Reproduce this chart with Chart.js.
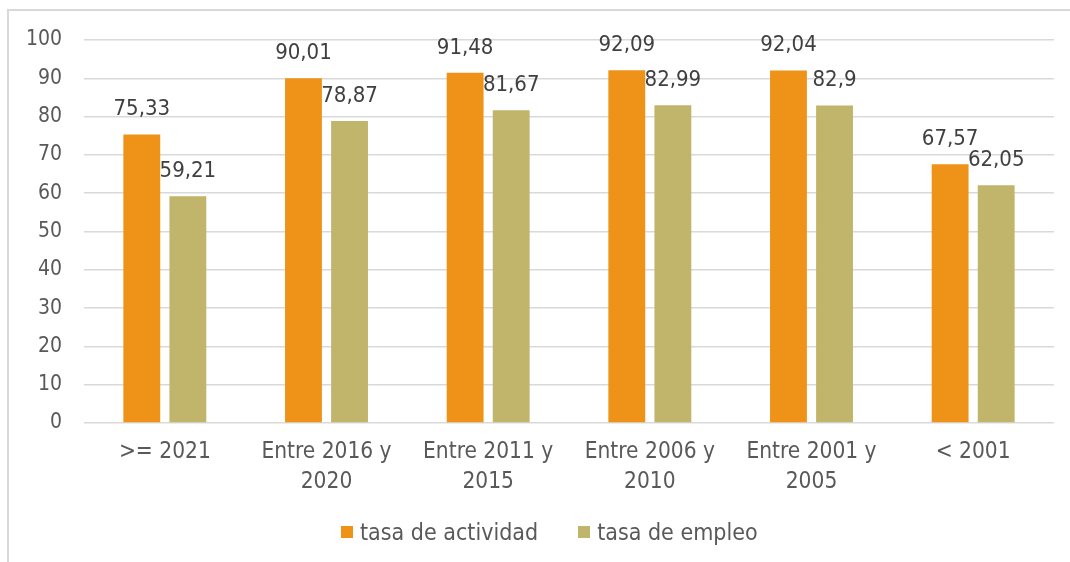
<!DOCTYPE html>
<html>
<head>
<meta charset="utf-8">
<script src="https://cdn.jsdelivr.net/npm/chart.js@4/dist/chart.umd.min.js"></script>
<style>
  html, body { margin:0; padding:0; background:#fff; overflow:hidden; }
  #wrap { position:relative; width:1070px; height:562px; overflow:hidden; }
  #frame { position:absolute; left:7px; top:9px; width:1100px; height:600px; border-left:2px solid #D9D9D9; border-top:2px solid #D9D9D9; }
  #chart { position:absolute; left:0; top:0; }
  #legend { position:absolute; left:341px; top:519px; display:flex; align-items:center; font:23px 'DejaVu Sans Condensed','DejaVu Sans',sans-serif; color:#595959; white-space:nowrap; }
  #legend .item { display:flex; align-items:center; margin-right:40px; }
  #legend .box { width:12px; height:12px; margin-right:7px; }
</style>
</head>
<body>
<div id="wrap">
  <div id="frame"></div>
  <canvas id="chart" width="1070" height="562"></canvas>
  <div id="legend"></div>
</div>
<script>
// Data
const categories = [['>= 2021'], ['Entre 2016 y', '2020'], ['Entre 2011 y', '2015'], ['Entre 2006 y', '2010'], ['Entre 2001 y', '2005'], ['< 2001']];
const seriesNames = ['tasa de actividad', 'tasa de empleo'];
const seriesColors = ['#EE9318', '#C1B56B'];
const actividad = [75.33, 90.01, 91.48, 92.09, 92.04, 67.57];
const empleo = [59.21, 78.87, 81.67, 82.99, 82.9, 62.05];
const yTicks = [0, 10, 20, 30, 40, 50, 60, 70, 80, 90, 100];

const FONT = "'DejaVu Sans Condensed', 'DejaVu Sans', sans-serif";
const fmt = (v)=> String(v).replace('.', ',');

// value labels above bars
const barLabels = {
  id:'barLabels',
  afterDatasetsDraw(chart){
    const ctx = chart.ctx;
    ctx.save();
    ctx.font = `22px ${FONT}`;
    ctx.fillStyle = '#404040';
    ctx.textAlign = 'center';
    ctx.textBaseline = 'alphabetic';
    chart.data.datasets.forEach((ds, i)=>{
      chart.getDatasetMeta(i).data.forEach((bar, j)=>{
        ctx.fillText(fmt(ds.data[j]), bar.x, bar.y - 19);
      });
    });
    ctx.restore();
  }
};

const chart = new Chart(document.getElementById('chart').getContext('2d'), {
  type:'bar',
  data:{
    labels: categories,
    datasets:[
      { label: seriesNames[0], data: actividad, backgroundColor: seriesColors[0] },
      { label: seriesNames[1], data: empleo, backgroundColor: seriesColors[1] }
    ]
  },
  options:{
    responsive:false,
    animation:false,
    categoryPercentage:0.57,
    barPercentage:0.8,
    layout:{ padding:{ left:0, right:16, top:40, bottom:64 } },
    plugins:{
      legend:{ display:false },
      tooltip:{ enabled:false }
    },
    scales:{
      x:{
        grid:{ display:false, drawTicks:false },
        border:{ display:false },
        ticks:{ color:'#595959', padding:14, font:{ family:FONT, size:22.5, lineHeight:1.35 }, maxRotation:0, autoSkip:false },
        afterFit:(s)=>{ s.height = 75; }
      },
      y:{
        min:0, max:100,
        afterBuildTicks:(s)=>{ s.ticks = yTicks.map(v=>({ value:v })); },
        grid:{ color:'#D9D9D9', lineWidth:1.5, drawTicks:false },
        border:{ display:false },
        ticks:{ color:'#595959', padding:22, font:{ family:FONT, size:21 } },
        afterFit:(s)=>{ s.width = 84; }
      }
    }
  },
  plugins:[barLabels]
});

// legend (built from the datasets)
const legend = document.getElementById('legend');
chart.data.datasets.forEach(ds=>{
  const item = document.createElement('div');
  item.className = 'item';
  item.innerHTML = `<span class="box" style="background:${ds.backgroundColor}"></span><span>${ds.label}</span>`;
  legend.appendChild(item);
});
</script>
</body>
</html>
